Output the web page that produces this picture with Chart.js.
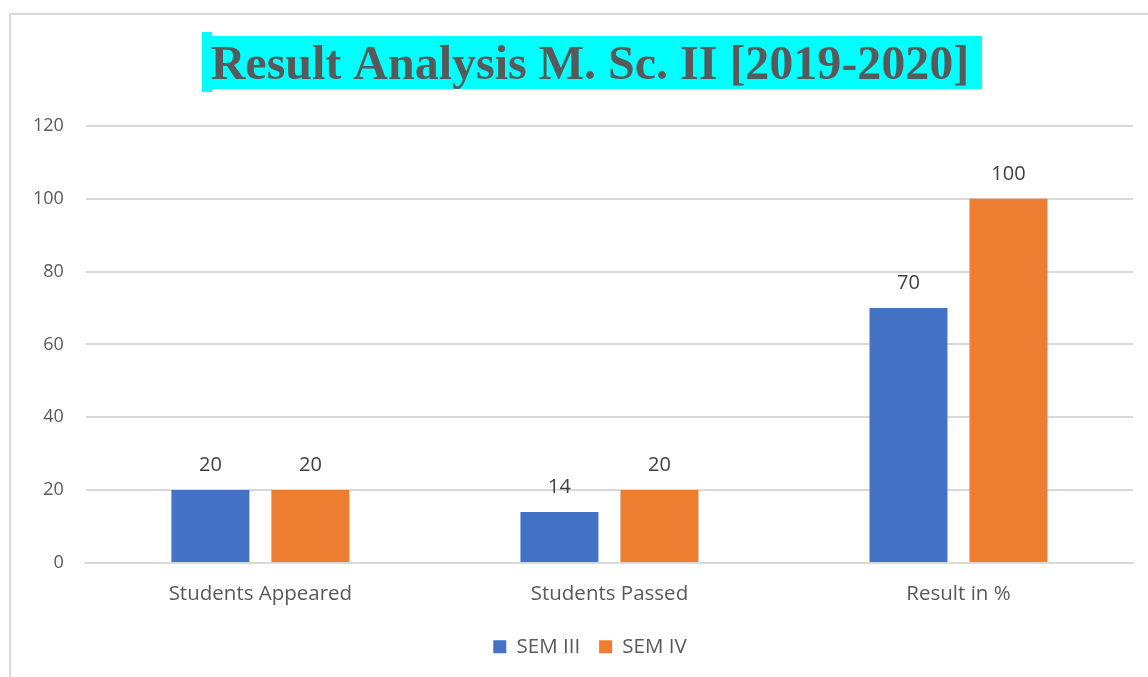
<!DOCTYPE html>
<html>
<head>
<meta charset="utf-8">
<script src="https://cdn.jsdelivr.net/npm/chart.js@4/dist/chart.umd.min.js"></script>
<style>
  html, body { margin: 0; padding: 0; background: #fff; }
  #frame { position: absolute; left: 9px; top: 13px; width: 1160px; height: 700px;
           border-left: 2px solid #d9d9d9; border-top: 2px solid #d9d9d9; }
  #wrap { position: absolute; left: 0; top: 0; width: 1148px; height: 677px; }
</style>
</head>
<body>
<div id="frame"></div>
<div id="wrap"><canvas id="barchart"></canvas></div>
<script>
var titleText = 'Result Analysis M. Sc. II [2019-2020]';
var categories = ['Students Appeared', 'Students Passed', 'Result in %'];
var semIII = [20, 14, 70];
var semIV = [20, 20, 100];
var seriesNames = ['SEM III', 'SEM IV'];
var yTicks = [0, 20, 40, 60, 80, 100, 120];

// title with cyan highlight box
var titleBox = {
  id: 'titleBox',
  afterDraw: function(chart) {
    var ctx = chart.ctx;
    ctx.save();
    ctx.fillStyle = '#00ffff';
    ctx.fillRect(202, 32, 10, 60);
    ctx.fillRect(202, 36, 780, 53);
    ctx.font = 'bold 48px "Liberation Serif", "Times New Roman", serif';
    ctx.fillStyle = '#595959';
    ctx.textAlign = 'center';
    ctx.textBaseline = 'alphabetic';
    ctx.fillText(titleText, 590, 79);
    ctx.restore();
  }
};

// value labels above each bar
var valueLabels = {
  id: 'valueLabels',
  afterDatasetsDraw: function(chart) {
    var ctx = chart.ctx;
    ctx.save();
    ctx.font = '20px "Open Sans", sans-serif';
    ctx.fillStyle = '#404040';
    ctx.textAlign = 'center';
    ctx.textBaseline = 'middle';
    chart.data.datasets.forEach(function(ds, i) {
      chart.getDatasetMeta(i).data.forEach(function(bar, j) {
        ctx.fillText(ds.data[j], bar.x, bar.y - 25);
      });
    });
    ctx.restore();
  }
};

// centre the legend under the whole picture like the original
var legendShift = {
  id: 'legendShift',
  afterLayout: function(chart) {
    var lg = chart.legend;
    var dx = 590 - (lg.left + lg.right) / 2;
    lg.left += dx;
    lg.right += dx;
  }
};

var ctx = document.getElementById('barchart').getContext('2d');
var myChart = new Chart(ctx, {
  type: 'bar',
  data: {
    labels: categories,
    datasets: [{
      label: seriesNames[0],
      data: semIII,
      backgroundColor: '#4472c4'
    }, {
      label: seriesNames[1],
      data: semIV,
      backgroundColor: '#ed7d31'
    }]
  },
  options: {
    responsive: true,
    maintainAspectRatio: false,
    animation: false,
    categoryPercentage: 0.573,
    barPercentage: 0.78,
    layout: { padding: { top: 126, left: 11, right: 15, bottom: 10 } },
    scales: {
      x: {
        grid: { display: false },
        border: { color: '#d9d9d9', width: 2 },
        ticks: { color: '#595959', font: { family: 'Open Sans', size: 20.5 }, padding: 11 }
      },
      y: {
        min: 0,
        max: 120,
        afterBuildTicks: function(scale) {
          scale.ticks = yTicks.map(function(v) { return { value: v }; });
        },
        grid: { color: '#d9d9d9', lineWidth: 2, drawTicks: false },
        border: { display: false },
        ticks: { color: '#595959', font: { family: 'Open Sans', size: 18 }, padding: 22 }
      }
    },
    plugins: {
      legend: {
        position: 'bottom',
        labels: {
          color: '#595959',
          font: { family: 'Open Sans', size: 20.5 },
          boxWidth: 13,
          boxHeight: 13,
          padding: 19
        }
      },
      tooltip: { enabled: false }
    }
  },
  plugins: [titleBox, valueLabels, legendShift]
});
</script>
</body>
</html>
